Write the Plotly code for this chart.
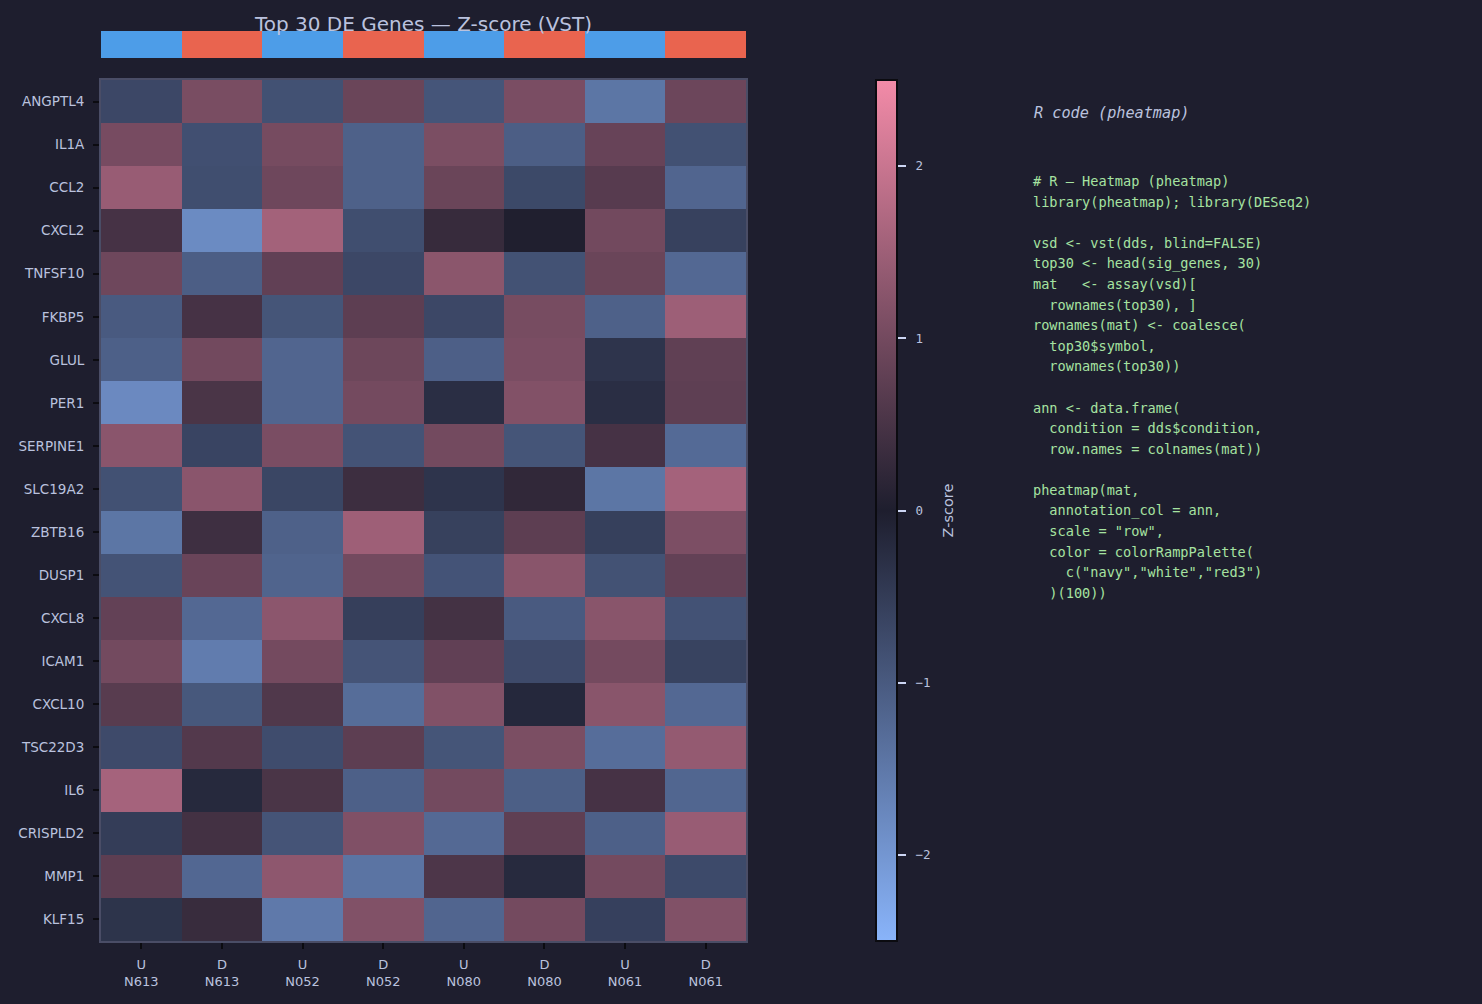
import plotly.graph_objects as go

# ---------------- data ----------------
genes = ["ANGPTL4", "IL1A", "CCL2", "CXCL2", "TNFSF10", "FKBP5", "GLUL", "PER1",
         "SERPINE1", "SLC19A2", "ZBTB16", "DUSP1", "CXCL8", "ICAM1", "CXCL10",
         "TSC22D3", "IL6", "CRISPLD2", "MMP1", "KLF15"]
conditions = ["U", "D", "U", "D", "U", "D", "U", "D"]
samples = ["N613", "N613", "N052", "N052", "N080", "N080", "N061", "N061"]

z_ANGPTL4 = [-0.69, 1.07, -0.85, 0.89, -0.92, 1.08, -1.46, 0.92]
z_IL1A = [1.04, -0.82, 1.03, -1.12, 1.09, -1.07, 0.86, -0.85]
z_CCL2 = [1.43, -0.80, 0.94, -1.12, 0.89, -0.71, 0.67, -1.19]
z_CXCL2 = [0.47, -1.81, 1.56, -0.80, 0.29, 0.02, 0.99, -0.59]
z_TNFSF10 = [0.94, -1.07, 0.79, -0.69, 1.28, -0.86, 0.89, -1.24]
z_FKBP5 = [-1.00, 0.47, -0.91, 0.74, -0.69, 1.05, -1.11, 1.49]
z_GLUL = [-1.10, 0.99, -1.19, 0.93, -1.09, 1.08, -0.37, 0.77]
z_PER1 = [-1.79, 0.52, -1.19, 1.01, -0.27, 1.17, -0.27, 0.75]
z_SERPINE1 = [1.27, -0.64, 1.08, -0.88, 1.00, -0.91, 0.47, -1.27]
z_SLC19A2 = [-0.85, 1.27, -0.66, 0.36, -0.37, 0.22, -1.46, 1.57]
z_ZBTB16 = [-1.46, 0.38, -1.12, 1.50, -0.58, 0.74, -0.56, 1.10]
z_DUSP1 = [-0.88, 0.88, -1.16, 1.00, -0.89, 1.26, -0.86, 0.81]
z_CXCL8 = [0.81, -1.24, 1.29, -0.55, 0.45, -1.00, 1.26, -0.87]
z_ICAM1 = [1.00, -1.57, 1.01, -0.90, 0.79, -0.74, 1.01, -0.61]
z_CXCL10 = [0.68, -0.96, 0.59, -1.31, 1.16, -0.17, 1.26, -1.24]
z_TSC22D3 = [-0.74, 0.62, -0.77, 0.74, -0.91, 1.09, -1.32, 1.38]
z_IL6 = [1.59, -0.18, 0.52, -1.10, 1.00, -1.08, 0.47, -1.20]
z_CRISPLD2 = [-0.51, 0.44, -0.90, 1.15, -1.25, 0.76, -1.10, 1.43]
z_MMP1 = [0.74, -1.22, 1.31, -1.43, 0.55, -0.20, 1.01, -0.73]
z_KLF15 = [-0.36, 0.31, -1.52, 1.16, -1.19, 1.01, -0.57, 1.16]

zmat = [z_ANGPTL4, z_IL1A, z_CCL2, z_CXCL2, z_TNFSF10, z_FKBP5, z_GLUL, z_PER1,
        z_SERPINE1, z_SLC19A2, z_ZBTB16, z_DUSP1, z_CXCL8, z_ICAM1, z_CXCL10,
        z_TSC22D3, z_IL6, z_CRISPLD2, z_MMP1, z_KLF15]

colorbar_ticks = [-2, -1, 0, 1, 2]
colorbar_labels = ["−2", "−1", "0", "1", "2"]

code_lines = [
    "# R — Heatmap (pheatmap)",
    "library(pheatmap); library(DESeq2)",
    "",
    "vsd <- vst(dds, blind=FALSE)",
    "top30 <- head(sig_genes, 30)",
    "mat   <- assay(vsd)[",
    "  rownames(top30), ]",
    "rownames(mat) <- coalesce(",
    "  top30$symbol,",
    "  rownames(top30))",
    "",
    "ann <- data.frame(",
    "  condition = dds$condition,",
    "  row.names = colnames(mat))",
    "",
    "pheatmap(mat,",
    "  annotation_col = ann,",
    "  scale = \"row\",",
    "  color = colorRampPalette(",
    "    c(\"navy\",\"white\",\"red3\")",
    "  )(100))",
]

# ---------------- styling ----------------
W, H = 1482, 1004
BG = "#1e1e2e"
TXT = "#bac2de"
x_l, x_r = 101, 746
y_t, y_b = 80, 941

def px_x(p):
    return p / W

def px_y(p):
    return 1 - p / H

col_ids = list(range(len(samples)))
tick_text = [f"{c}<br>{s}" for c, s in zip(conditions, samples)]
cond_code = [[0 if c == "U" else 1 for c in conditions]]
NB = "\u00a0"
cb_text = [NB + t + NB * 2 for t in colorbar_labels]

fig = go.Figure()

fig.add_trace(go.Heatmap(
    z=zmat, x=col_ids, y=genes,
    zmin=-2.5, zmax=2.5,
    colorscale=[[0, "#89b4fa"], [0.5, "#1e1e2e"], [1, "#f38ba8"]],
    xgap=0, ygap=0,
    colorbar=dict(
        x=px_x(876), xanchor="left", xpad=0,
        y=px_y((y_t + y_b) / 2), yanchor="middle", ypad=0,
        len=y_b - y_t, lenmode="pixels",
        thickness=21, thicknessmode="pixels",
        outlinecolor="#0b0b10", outlinewidth=2,
        tickvals=colorbar_ticks, ticktext=cb_text,
        ticks="outside", ticklen=8, tickwidth=2, tickcolor="#cdd6f4",
        tickfont=dict(family="DejaVu Sans Mono", size=12.5, color=TXT),
        title=dict(text="Z-score", side="right",
                   font=dict(family="DejaVu Sans", size=14.5, color=TXT)),
    ),
    xaxis="x", yaxis="y",
))

fig.add_trace(go.Heatmap(
    z=cond_code, x=col_ids, y=["condition"],
    zmin=0, zmax=1,
    colorscale=[[0, "#4d9de8"], [0.5, "#4d9de8"], [0.5, "#e9644f"], [1, "#e9644f"]],
    showscale=False,
    xaxis="x", yaxis="y2",
))

annotations = [dict(
    text="<i>R code (pheatmap)</i>", x=px_x(1032), y=px_y(113),
    xref="paper", yref="paper", xanchor="left", yanchor="middle",
    showarrow=False, font=dict(family="DejaVu Sans Mono", size=15.2, color=TXT),
)]
for i, line in enumerate(code_lines):
    if not line:
        continue
    annotations.append(dict(
        text=line.replace(" ", NB), x=px_x(1031), y=px_y(181 + i * 20.6),
        xref="paper", yref="paper", xanchor="left", yanchor="middle",
        showarrow=False, font=dict(family="DejaVu Sans Mono", size=13.6, color="#a6e3a1"),
    ))

fig.update_layout(
    width=W, height=H,
    paper_bgcolor=BG, plot_bgcolor=BG,
    margin=dict(l=0, r=0, t=0, b=0),
    showlegend=False,
    title=dict(text="Top 30 DE Genes — Z-score (VST)", x=px_x((x_l + x_r) / 2), xanchor="center",
               y=px_y(24), yanchor="middle", yref="paper",
               font=dict(family="DejaVu Sans", size=20, color=TXT)),
    xaxis=dict(domain=[px_x(x_l), px_x(x_r)], anchor="y",
               tickvals=col_ids, ticktext=tick_text, range=[-0.5, 7.5],
               ticks="outside", ticklen=6, tickwidth=2, tickcolor="#0b0b10",
               tickfont=dict(family="DejaVu Sans", size=13, color=TXT),
               ticklabelstandoff=4,
               showline=True, mirror=True, linecolor="#4a4d66", linewidth=2,
               showgrid=False, zeroline=False, automargin=False),
    yaxis=dict(domain=[px_y(y_b), px_y(y_t)], anchor="x",
               autorange="reversed", type="category",
               ticks="outside", ticklen=6, tickwidth=2, tickcolor="#0b0b10",
               tickfont=dict(family="DejaVu Sans", size=13.5, color=TXT),
               ticklabelstandoff=6,
               showline=True, mirror=True, linecolor="#4a4d66", linewidth=2,
               showgrid=False, zeroline=False, automargin=False),
    yaxis2=dict(domain=[px_y(58), px_y(31)], anchor="x",
                showticklabels=False, ticks="", showline=False,
                showgrid=False, zeroline=False, automargin=False),
    annotations=annotations,
)

fig.write_html("out.html")
